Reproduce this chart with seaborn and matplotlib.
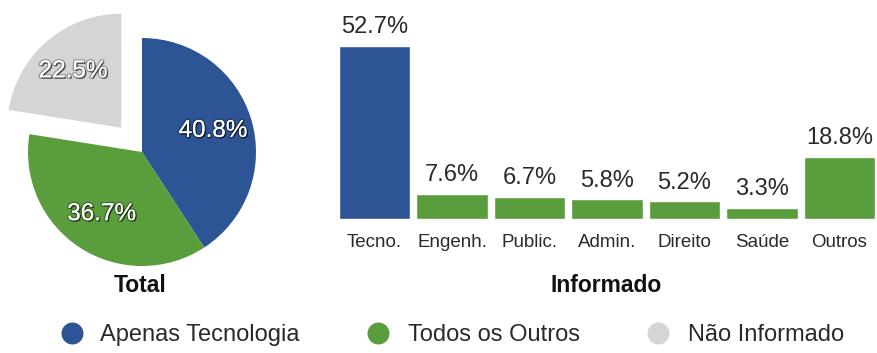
import matplotlib
matplotlib.use("Agg")
import matplotlib.pyplot as plt
import matplotlib.patheffects as pe
import seaborn as sns
import pandas as pd

# Share of respondents by background
pie_labels = ["Apenas Tecnologia", "Todos os Outros", "Não Informado"]
pie_values = [40.8, 36.7, 22.5]

# Breakdown of informed backgrounds
bar_categories = ["Tecno.", "Engenh.", "Public.", "Admin.", "Direito", "Saúde", "Outros"]
bar_values = [52.7, 7.6, 6.7, 5.8, 5.2, 3.3, 18.8]
bar_groups = ["Apenas Tecnologia"] + ["Todos os Outros"] * 6

BLUE = "#2d5494"
GREEN = "#5a9d3c"
GRAY = "#d5d5d5"
palette = {"Apenas Tecnologia": BLUE, "Todos os Outros": GREEN, "Não Informado": GRAY}
TEXT = "#2a2a2a"

sns.set_theme(style="white")
plt.rcParams["font.family"] = ["Liberation Sans", "DejaVu Sans"]

W, H = 877, 353
fig = plt.figure(figsize=(W / 100, H / 100), dpi=100)


def box(left, top, width, height):
    """Axes rectangle given in pixels from the top-left corner."""
    return [left / W, (H - top - height) / H, width / W, height / H]


# ---- pie: overall split ----
ax_pie = fig.add_axes(box(-0.5, 9.5, 285, 285))
wedges, _, autotexts = ax_pie.pie(
    pie_values,
    colors=[palette[k] for k in pie_labels],
    startangle=90,
    counterclock=False,
    explode=[0, 0, 0.28],
    autopct=lambda p: f"{p:.1f}%",
    pctdistance=0.65,
    wedgeprops=dict(linewidth=0),
    textprops=dict(color="white", fontsize=17.5),
)
for t in autotexts:
    t.set_path_effects([
        pe.withStroke(linewidth=2.0, foreground=(0, 0, 0, 0.3)),
        pe.withSimplePatchShadow(offset=(1, -1), shadow_rgbFace="black", alpha=0.5),
    ])
ax_pie.set_xlim(-1.25, 1.25)
ax_pie.set_ylim(-1.25, 1.25)
ax_pie.set_aspect("equal")
ax_pie.axis("off")

# ---- bars: informed backgrounds ----
ax_bar = fig.add_axes(box(335.9, 218.5 - 196.8, 542.2, 196.8))
df = pd.DataFrame({"categoria": bar_categories, "valor": bar_values, "grupo": bar_groups})
sns.barplot(
    data=df, x="categoria", y="valor", hue="grupo", palette=palette,
    width=0.92, dodge=False, legend=False, saturation=1, ax=ax_bar,
)
ax_bar.set_xlim(-0.5, 6.5)
ax_bar.set_ylim(0, 60)
ax_bar.set_xlabel("")
ax_bar.set_ylabel("")
ax_bar.set_yticks([])
for s in ax_bar.spines.values():
    s.set_visible(False)
ax_bar.tick_params(axis="x", length=0, pad=11, labelsize=13.5, labelcolor=TEXT)
ax_bar.patch.set_alpha(0)

for patch, val in zip(ax_bar.patches, bar_values):
    ax_bar.annotate(
        f"{val:.1f}%",
        (patch.get_x() + patch.get_width() / 2, patch.get_height()),
        xytext=(0, 9), textcoords="offset points",
        ha="center", va="baseline", fontsize=17, color=TEXT,
        annotation_clip=False,
    )

# ---- titles ----
fig.text(140 / W, 1 - 285 / H, "Total", ha="center", va="center",
         fontsize=16.5, fontweight="bold", color="#111111")
fig.text(606 / W, 1 - 285 / H, "Informado", ha="center", va="center",
         fontsize=16.5, fontweight="bold", color="#111111")

# ---- legend row ----
ax_leg = fig.add_axes([0, 0, 1, 1], zorder=-1)
ax_leg.set_xlim(0, W)
ax_leg.set_ylim(H, 0)
ax_leg.axis("off")
legend_marker_x = [72, 378, 658]
legend_text_x = [100, 408, 688]
for name, mx, tx in zip(pie_labels, legend_marker_x, legend_text_x):
    ax_leg.scatter([mx], [333], s=250, color=palette[name], linewidths=0)
    ax_leg.text(tx, 341, name, ha="left", va="baseline", fontsize=17, color=TEXT)

fig.savefig("out.png", dpi=100)
